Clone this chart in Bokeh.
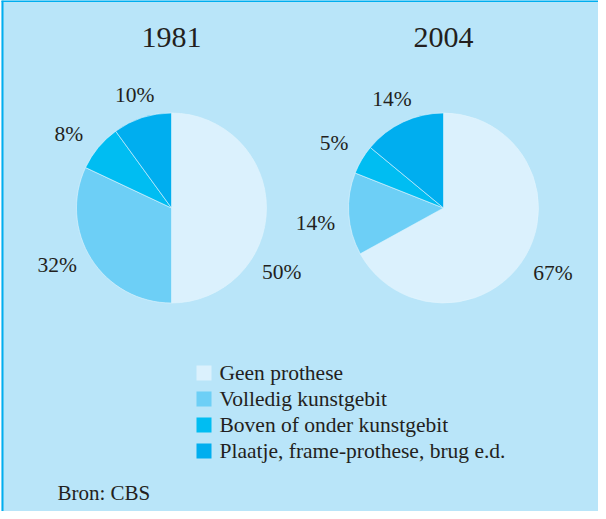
import math
from bokeh.plotting import figure
from bokeh.models import Range1d, ColumnDataSource
from bokeh.core.properties import value
from bokeh.embed import file_html
from bokeh.resources import INLINE

# ---------------- data ----------------
categories = ["Geen prothese", "Volledig kunstgebit",
              "Boven of onder kunstgebit", "Plaatje, frame-prothese, brug e.d."]
years = ["1981", "2004"]
values_1981 = [50, 32, 8, 10]
values_2004 = [67, 14, 5, 14]
source_note = "Bron: CBS"

# ---------------- style / layout ----------------
colors = ["#dbf1fd", "#6dcff6", "#00bdf2", "#00aeef"]
bg = "#b9e5f9"
edge = "#00aeef"
ink = "#231f20"
FONT = "Liberation Serif"
W, H = 598, 511
R = 95
centers = [(171, 303.5), (443, 303.5)]
label_nudge_deg = [[30, 6, -4, 0], [0, -3, 0, 0]]  # manual label placement tweak

p = figure(width=W, height=H, x_range=Range1d(0, W), y_range=Range1d(0, H),
           output_backend="svg", toolbar_location=None, min_border=0)
p.axis.visible = False
p.grid.visible = False
p.outline_line_color = None
p.background_fill_color = "white"
p.border_fill_color = "white"

# panel background and its top/left edges
p.quad(left=[1], right=[W], bottom=[0], top=[H], fill_color=bg, line_color=None)
p.segment(x0=[1], y0=[H - 0.5], x1=[W], y1=[H - 0.5], line_color=edge, line_width=2)
p.segment(x0=[2], y0=[0], x1=[2], y1=[H], line_color=edge, line_width=2)

for (cx, cy), year, vals, nudges in zip(centers, years, [values_1981, values_2004], label_nudge_deg):
    total = float(sum(vals))
    starts, ends, lx, ly, labs = [], [], [], [], []
    acc = 0.0
    for v, nd in zip(vals, nudges):
        f0 = acc / total
        acc += v
        f1 = acc / total
        starts.append(math.pi / 2 - 2 * math.pi * f0)
        ends.append(math.pi / 2 - 2 * math.pi * f1)
        theta = 2 * math.pi * (f0 + f1) / 2 + math.radians(nd)
        rl = R + 20 + 14 * abs(math.sin(theta))
        lx.append(cx + rl * math.sin(theta))
        ly.append(cy + rl * math.cos(theta))
        labs.append(f"{v}%")
    src = ColumnDataSource(dict(start=starts, end=ends, color=colors))
    p.wedge(x=cx, y=cy, radius=R, start_angle="start", end_angle="end",
            direction="clock", fill_color="color", line_color="#e3f5fd",
            line_width=0.6, source=src)
    p.text(x=lx, y=ly, text=labs, text_font=value(FONT), text_font_size="21.5px",
           text_color=ink, text_align="center", text_baseline="middle")
    p.text(x=[cx], y=[474], text=[year], text_font=value(FONT), text_font_size="30px",
           text_color=ink, text_align="center", text_baseline="middle")

# legend
leg_y = [138.5 - 26 * i for i in range(len(categories))]
p.rect(x=[203.5] * len(categories), y=leg_y, width=15, height=15,
       fill_color=colors, line_color=None)
p.text(x=[219] * len(categories), y=leg_y, text=categories, text_font=value(FONT),
       text_font_size="21.5px", text_color=ink, text_align="left", text_baseline="middle")

p.text(x=[57], y=[19], text=[source_note], text_font=value(FONT), text_font_size="21px",
       text_color=ink, text_align="left", text_baseline="middle")

open("out.html", "w").write(file_html(p, INLINE))
